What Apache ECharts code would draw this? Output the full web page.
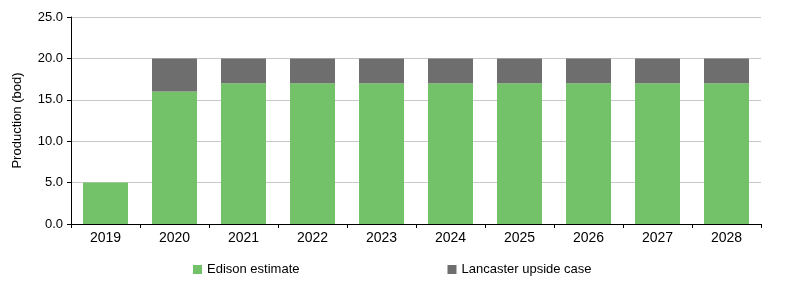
<!DOCTYPE html>
<html><head><meta charset="utf-8">
<script src="https://cdn.jsdelivr.net/npm/echarts@6/dist/echarts.min.js"></script>
<style>html,body{margin:0;padding:0;background:#fff}#c{width:800px;height:293px}</style>
</head><body><div id="c"></div>
<script>
const categories = ['2019','2020','2021','2022','2023','2024','2025','2026','2027','2028'];
const edisonEstimate = [5.0,16.0,17.0,17.0,17.0,17.0,17.0,17.0,17.0,17.0];
const lancasterUpside = [0,4.0,3.0,3.0,3.0,3.0,3.0,3.0,3.0,3.0];
const yTicks = [0,5,10,15,20,25];
const FONT = '"Liberation Sans",Arial,sans-serif';
const chart = echarts.init(document.getElementById('c'));
chart.setOption({
  animation:false,
  textStyle:{fontFamily:FONT},
  grid:{left:71,right:39,top:17,bottom:69,containLabel:false},
  legend:{bottom:12,left:188,itemWidth:9,itemHeight:9,itemGap:148,icon:'rect',
    textStyle:{fontFamily:FONT,fontSize:13,color:'#000'},
    data:['Edison estimate','Lancaster upside case']},
  xAxis:{type:'category',data:categories,
    axisLine:{lineStyle:{color:'#000',width:1}},
    axisTick:{show:true,alignWithLabel:false,length:4,lineStyle:{color:'#000'}},
    axisLabel:{color:'#000',fontSize:14,fontFamily:FONT,margin:7}},
  yAxis:{type:'value',min:yTicks[0],max:yTicks[yTicks.length-1],interval:5,
    name:'Production (bod)',nameLocation:'middle',nameGap:47,
    nameTextStyle:{color:'#000',fontSize:13,fontFamily:FONT},
    axisLine:{show:true,lineStyle:{color:'#000'}},
    axisTick:{show:true,length:4,lineStyle:{color:'#000'}},
    axisLabel:{color:'#000',fontSize:13,fontFamily:FONT,margin:8,formatter:v=>v.toFixed(1)},
    splitLine:{lineStyle:{color:'#c8c8c8',width:1}}},
  series:[
    {name:'Edison estimate',type:'bar',stack:'s',data:edisonEstimate,barWidth:45,
     itemStyle:{color:'#73c169'}},
    {name:'Lancaster upside case',type:'bar',stack:'s',data:lancasterUpside,barWidth:45,
     itemStyle:{color:'#6e6e6e'}}
  ]
});
</script></body></html>
